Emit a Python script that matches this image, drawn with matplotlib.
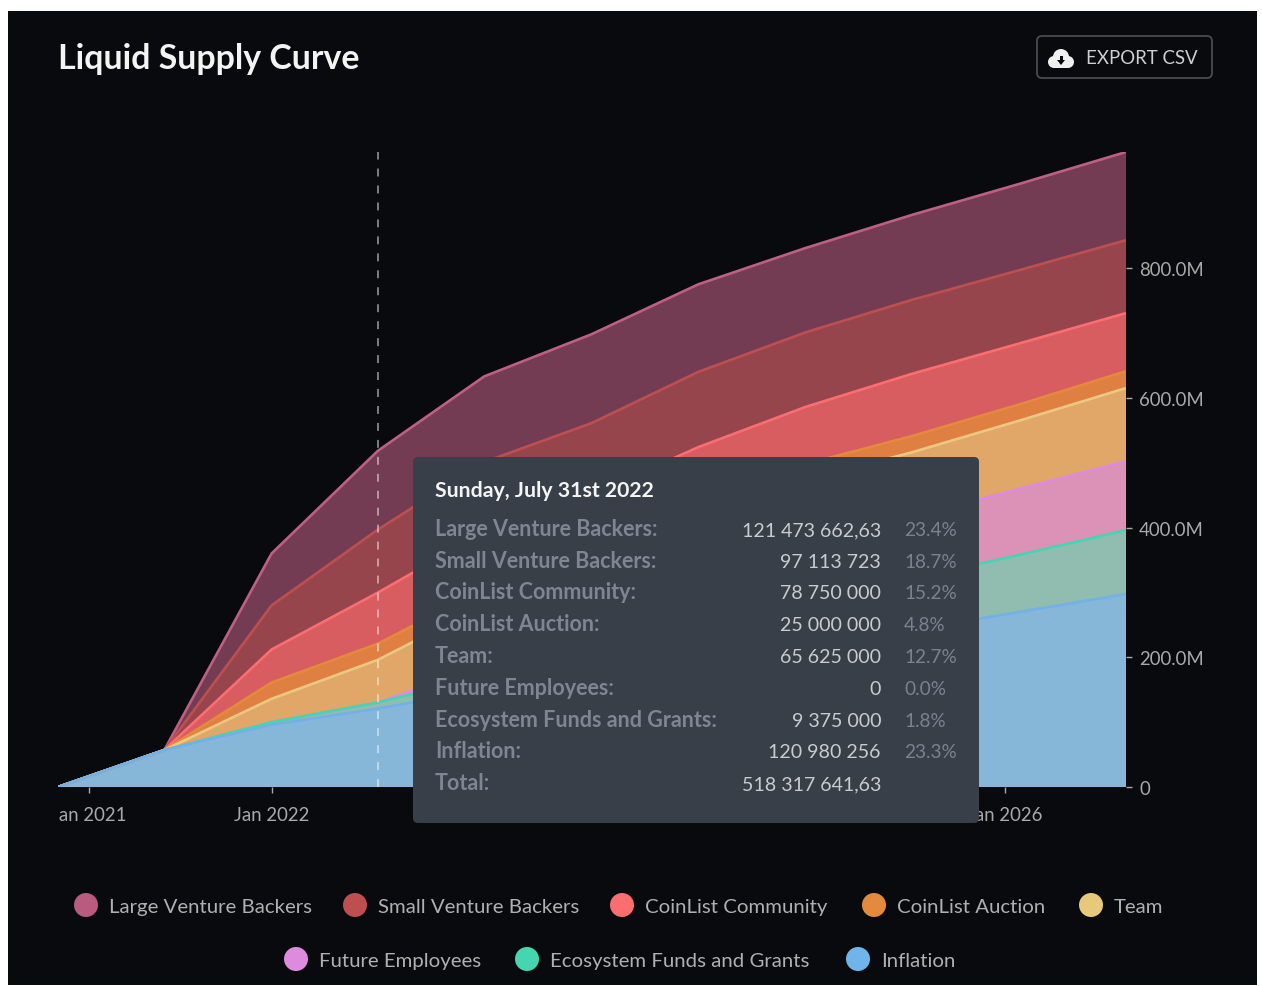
#!/usr/bin/env python
# -*- coding:utf-8 -*-
"""
    Liquid Supply Curve, stacked area with tooltip and legend
"""
import numpy as np
import matplotlib
matplotlib.use("Agg")
import matplotlib.pyplot as plt
import matplotlib.dates as mdates
from matplotlib.patches import Rectangle, FancyBboxPatch, Circle, Polygon
from matplotlib.transforms import Bbox
from datetime import date

plt.rcParams['font.family'] = ['Lato', 'DejaVu Sans']

W, H = 1262, 987

# knots, every seven months
dates = [date(2020, 10, 31), date(2021, 5, 31), date(2021, 12, 31), date(2022, 7, 31),
         date(2023, 2, 28), date(2023, 9, 30), date(2024, 4, 30), date(2024, 11, 30),
         date(2025, 6, 30), date(2026, 1, 31), date(2026, 8, 31)]

# millions of tokens
inflation = [0, 57, 96, 121, 150, 170, 196, 219, 242, 270, 297.5]
ecosystem = [0, 0, 4, 9.4, 20, 33, 48, 65, 79, 88, 98.5]
future_employees = [0, 0, 0, 0, 18, 36, 67, 89, 95, 102, 106]
team = [0, 0, 36, 65.6, 92, 98, 100, 100, 100, 105, 113]
auction = [0, 0, 25, 25, 25, 25, 25, 25, 25, 25, 26]
community = [0, 0, 51, 78.75, 88, 88, 88, 88, 96, 94, 89.6]
small_backers = [0, 0, 68, 97.1, 108, 111, 116, 115, 114, 113, 112.4]
large_backers = [0, 0, 80, 121.5, 132, 137, 135, 130, 131, 133, 136]

names = ["Large Venture Backers", "Small Venture Backers", "CoinList Community", "CoinList Auction",
         "Team", "Future Employees", "Ecosystem Funds and Grants", "Inflation"]

y_ticks = [0, 200, 400, 600, 800]
y_tick_labels = ["0", "200.0M", "400.0M", "600.0M", "800.0M"]
x_ticks = [date(2021, 1, 1), date(2022, 1, 1), date(2023, 1, 1), date(2024, 1, 1), date(2025, 1, 1), date(2026, 1, 1)]
x_tick_labels = ["Jan 2021", "Jan 2022", "Jan 2023", "Jan 2024", "Jan 2025", "Jan 2026"]

tooltip_date = "Sunday, July 31st 2022"
tooltip_labels = [n + ":" for n in names] + ["Total:"]
tooltip_values = ["121 473 662,63", "97 113 723", "78 750 000", "25 000 000", "65 625 000", "0",
                  "9 375 000", "120 980 256", "518 317 641,63"]
tooltip_pcts = ["23.4%", "18.7%", "15.2%", "4.8%", "12.7%", "0.0%", "1.8%", "23.3%", ""]

# bottom of the stack first
stack = [inflation, ecosystem, future_employees, team, auction, community, small_backers, large_backers]
fills = ["#87b7d8", "#91bcb0", "#dc91b6", "#e0a768", "#df7f42", "#d85d60", "#97454c", "#733c52"]
lines = ["#74b0e8", "#45d5b0", "#dd8adf", "#ecc981", "#e38a3c", "#fc6d70", "#bd4f50", "#bf5f82"]
legend_colors = ["#b95a7e", "#bd4f50", "#fc6d70", "#e38a3c", "#e8c87a", "#dd8adf", "#45d5b0", "#6fb4ea"]

fig = plt.figure(figsize=(W / 100, H / 100), dpi=100, facecolor="white")
fig.add_artist(Rectangle((8 / W, 1 - 986 / H), 1249 / W, 974 / H, transform=fig.transFigure,
                         facecolor="#090a0d", edgecolor="none", zorder=-1))

# chart area in pixels: x 58..1126, y 153..788
ax = fig.add_axes([58 / W, 1 - 788 / H, 1068 / W, 635 / H])
ax.patch.set_visible(False)
ax.set_xlim(dates[0], dates[-1])
ax.set_ylim(0, 979)

x = mdates.date2num(dates)
ax.stackplot(x, stack, colors=fills, linewidth=0, zorder=2)
tops = np.cumsum(np.array(stack), axis=0)
for i in range(len(stack) - 1, -1, -1):
    ax.plot(x, tops[i], color=lines[i], lw=1.9, solid_capstyle="butt", zorder=3)

ax.axvline(date(2022, 7, 31), color="white", alpha=0.6, lw=1.1, ls=(0, (5.2, 5.9)), zorder=4, clip_on=False)

for s in ax.spines.values():
    s.set_visible(False)
ax.yaxis.tick_right()
ax.set_yticks(y_ticks)
ax.set_yticklabels(y_tick_labels)
ax.set_xticks(x_ticks)
ax.set_xticklabels(x_tick_labels)
ax.tick_params(axis="y", colors="#a9a9a9", length=4.5, width=1, pad=5, labelsize=13.4)
ax.tick_params(axis="x", colors="#a9a9a9", length=4.5, width=1, pad=9, labelsize=13.4)

# first tick label is cut by the chart's left edge
clip = Bbox([[58, 0], [W, H]])
for lab in ax.get_xticklabels():
    lab.set_clip_box(clip)
    lab.set_clip_on(True)

# overlay in pixel coordinates for title, button, tooltip and legend
ui = fig.add_axes([0, 0, 1, 1], zorder=5)
ui.set_xlim(0, W)
ui.set_ylim(H - 1, -1)
ui.axis("off")

ui.text(58, 68, "Liquid Supply Curve", color="#f4f4f4", fontsize=24.4, fontweight="bold", va="baseline")

ui.add_patch(FancyBboxPatch((1037, 36), 175, 42, boxstyle="round,pad=0,rounding_size=5",
                            facecolor="none", edgecolor="#4a4b4e", lw=1.3))
for cx, cy, r in [(1054, 62, 6), (1061, 57, 8), (1068, 62, 6)]:
    ui.add_patch(Circle((cx, cy), r, color="#f0f0f0", lw=0))
ui.add_patch(Rectangle((1054, 60), 14, 8, color="#f0f0f0", lw=0))
ui.add_patch(Polygon([[1057, 60], [1065, 60], [1061, 65]], color="#090a0d", lw=0))
ui.add_patch(Rectangle((1059.5, 56), 3, 5, color="#090a0d", lw=0))
ui.text(1086, 63, "EXPORT CSV", color="#cfcfcf", fontsize=13.4, va="baseline")

# tooltip
ui.add_patch(FancyBboxPatch((413, 457), 566, 366, boxstyle="round,pad=0,rounding_size=5",
                            facecolor="#393f49", edgecolor="none"))
ui.text(435, 496, tooltip_date, color="#f4f4f4", fontsize=15.3, fontweight="bold", va="baseline")
rows_y = [535, 567, 598, 630, 662, 694, 726, 757, 789]
for ry, lab, val, pct in zip(rows_y, tooltip_labels, tooltip_values, tooltip_pcts):
    ui.text(435, ry, lab, color="#7e8693", fontsize=15.5, fontweight="bold", va="baseline")
    ui.text(881, ry, val, color="#c8cbd0", fontsize=14.1, va="baseline", ha="right")
    ui.text(904, ry, pct, color="#7b828e", fontsize=13.7, va="baseline")

# legend, two centred rows
legend_x = [86, 355, 622, 874, 1091, 296, 527, 858]
legend_y = [905, 905, 905, 905, 905, 959, 959, 959]
for lx, ly, name, col in zip(legend_x, legend_y, names, legend_colors):
    ui.add_patch(Circle((lx, ly), 12, color=col, lw=0))
    ui.text(lx + 23, ly + 7, name, color="#b0b0b0", fontsize=14.7, va="baseline")

fig.savefig("out.png", dpi=100, facecolor="white")
